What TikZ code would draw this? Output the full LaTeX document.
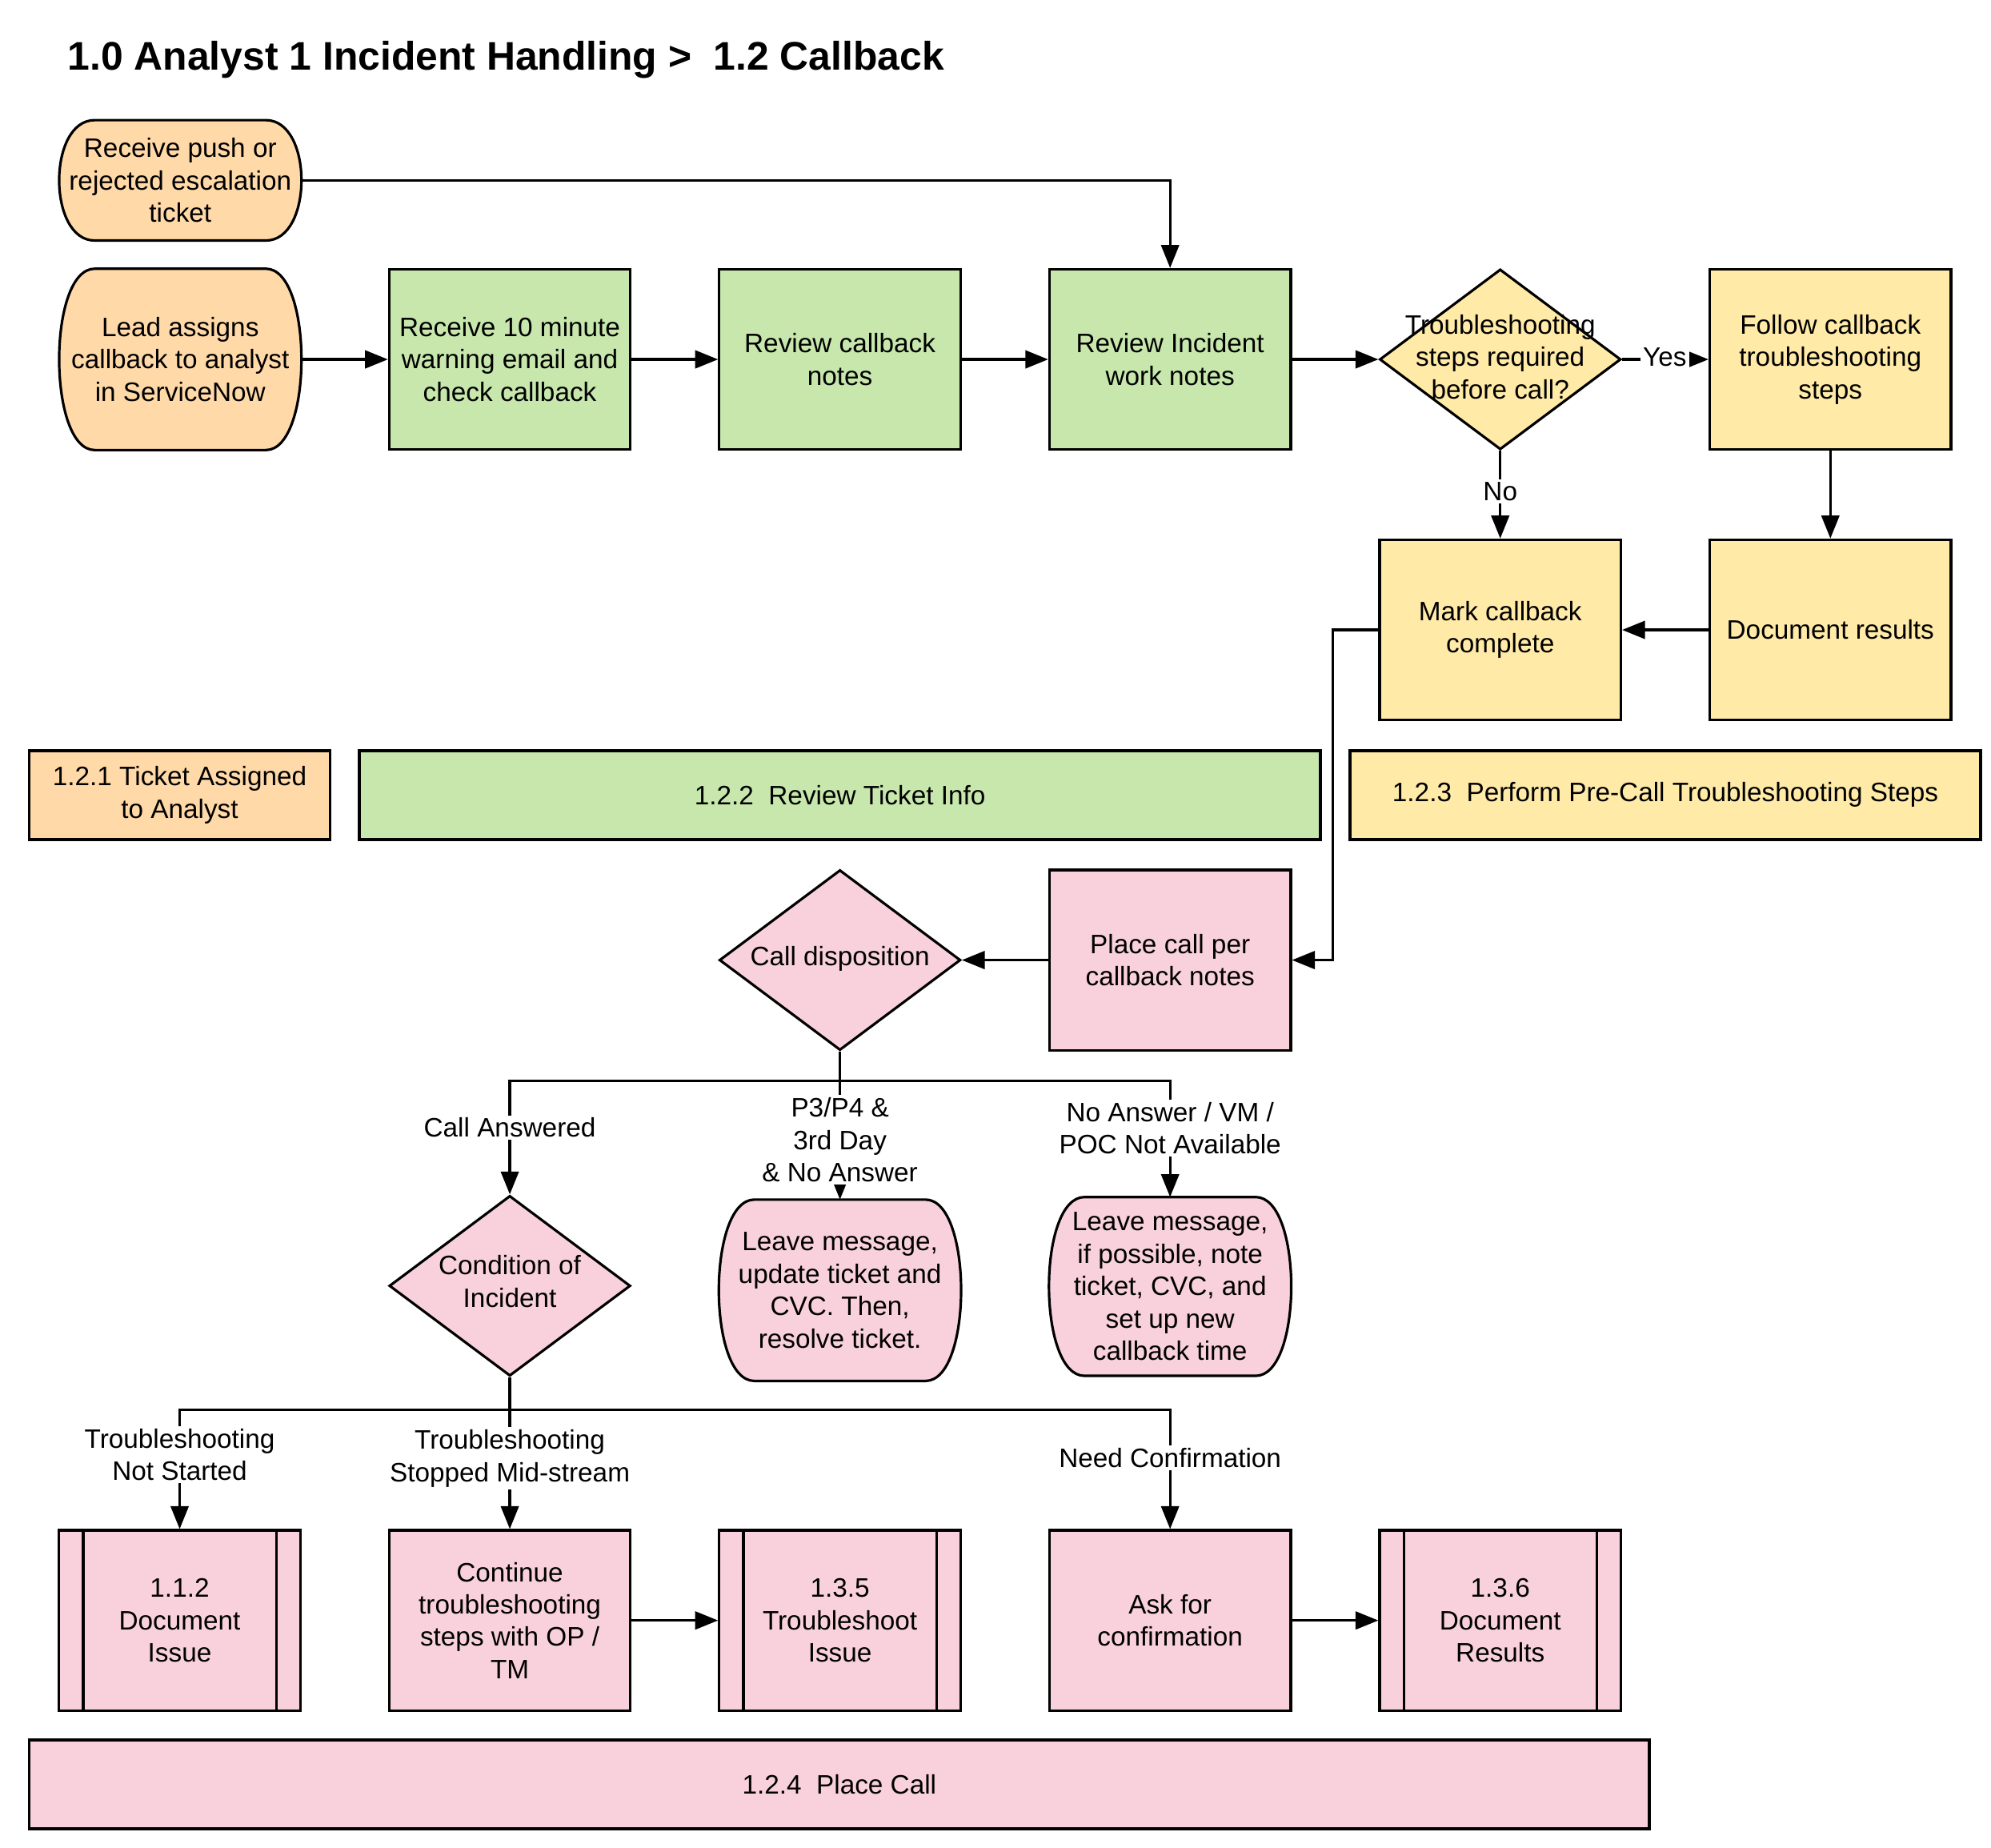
\documentclass[tikz,border=0pt]{standalone}
\usepackage{fontspec}
\setmainfont{Liberation Sans}
\usetikzlibrary{shapes.geometric,arrows.meta,calc,backgrounds}
\definecolor{peach}{HTML}{FFD9A8}
\definecolor{lgreen}{HTML}{C7E7AD}
\definecolor{lyellow}{HTML}{FFEAA7}
\definecolor{lpink}{HTML}{F8D1DC}
\newcommand\nodefont{\fontsize{10.5pt}{12.75pt}\selectfont}
\newcommand\barrelpath[2]{%
  \draw[line width=1pt, fill=#2] let \p1=(#1.north west), \p2=(#1.south east) in
    (\x1+14pt,\y1) -- (\x2-14pt,\y1)
    .. controls (\x2+4.67pt,\y1) and (\x2+4.67pt,\y2) .. (\x2-14pt,\y2)
    -- (\x1+14pt,\y2)
    .. controls (\x1-4.67pt,\y2) and (\x1-4.67pt,\y1) .. cycle;}
\begin{document}
\begin{tikzpicture}[x=0.5pt, y=-0.5pt,
  every node/.style={font=\nodefont},
  box/.style={rectangle, draw, line width=1pt, minimum width=95pt, minimum height=71pt, align=center, inner sep=2pt},
  term/.style={rectangle, draw=none, minimum width=95pt, minimum height=71pt, align=center, inner sep=2pt},
  dia/.style={diamond, draw, line width=1pt, minimum width=95pt, minimum height=71pt, inner sep=0pt},
  sub/.style={box, path picture={
     \draw[line width=1pt] ([xshift=9.5pt]path picture bounding box.north west) -- ([xshift=9.5pt]path picture bounding box.south west);
     \draw[line width=1pt] ([xshift=-9.5pt]path picture bounding box.north east) -- ([xshift=-9.5pt]path picture bounding box.south east);}},
  lane/.style={rectangle, draw, line width=1.2pt, minimum height=35pt, align=center, inner sep=2pt},
  lbl/.style={fill=white, align=center, inner sep=1pt},
  ln/.style={line width=1pt},
  arr/.style={line width=1pt, -{Triangle[length=9pt,width=7pt]}}]
\useasboundingbox (0,0) rectangle (1568,1455);

\node[anchor=base west, inner sep=0pt, font=\fontsize{15.7pt}{19pt}\selectfont\bfseries] (title) at (53,55) {1.0 Analyst 1 Incident Handling >\ \ 1.2 Callback};

% row 0 / 1
\node[term, minimum height=47pt] (push) at (142,142) {Receive push or\\rejected escalation\\ticket};
\node[term] (lead) at (142,283) {Lead assigns\\callback to analyst\\in ServiceNow};
\node[box, fill=lgreen] (recv) at (401.5,283) {Receive 10 minute\\warning email and\\check callback};
\node[box, fill=lgreen] (revcb) at (661.5,283) {Review callback\\notes};
\node[box, fill=lgreen] (revinc) at (921.5,283) {Review Incident\\work notes};
\node[dia, fill=lyellow] (d1) at (1181.5,283) {};
\node[align=center, inner sep=0pt] (d1t) at (1181.5,281) {Troubleshooting\\steps required\\before call?};
\node[box, fill=lyellow] (follow) at (1441.5,283) {Follow callback\\troubleshooting\\steps};

% row 2
\node[box, fill=lyellow] (mark) at (1181.5,496) {Mark callback\\complete};
\node[box, fill=lyellow] (docres) at (1441.5,496) {Document results};

% lanes
\node[lane, fill=peach, minimum width=118.5pt] (lane1) at (141.5,626) {1.2.1 Ticket Assigned\\to Analyst};
\node[lane, fill=lgreen, minimum width=378.5pt] (lane2) at (661.5,626) {1.2.2\ \ Review Ticket Info};
\node[lane, fill=lyellow, minimum width=248.5pt] (lane3) at (1311.5,626) {1.2.3\ \ Perform Pre-Call Troubleshooting Steps};

% row 3
\node[dia, fill=lpink] (calldisp) at (661.5,756) {};
\node[inner sep=0pt] (calldispt) at (661.5,755) {Call disposition};
\node[box, fill=lpink] (place) at (921.5,756) {Place call per\\callback notes};

% row 4
\node[dia, fill=lpink] (cond) at (401.5,1012.5) {};
\node[align=center, inner sep=0pt] (condt) at (401.5,1009) {Condition of\\Incident};
\node[term] (leave1) at (661.5,1016) {Leave message,\\update ticket and\\CVC. Then,\\resolve ticket.};
\node[term, minimum height=70pt] (leave2) at (921.5,1013) {Leave message,\\if possible, note\\ticket, CVC, and\\set up new\\callback time};

% row 5
\node[sub, fill=lpink] (doc112) at (141.5,1276) {1.1.2\\Document\\Issue};
\node[box, fill=lpink] (cont) at (401.5,1276) {Continue\\troubleshooting\\steps with OP /\\TM};
\node[sub, fill=lpink] (ts135) at (661.5,1276) {1.3.5\\Troubleshoot\\Issue};
\node[box, fill=lpink] (ask) at (921.5,1276) {Ask for\\confirmation};
\node[sub, fill=lpink] (doc136) at (1181.5,1276) {1.3.6\\Document\\Results};

\node[lane, fill=lpink, minimum width=638pt] (lane4) at (661,1405) {1.2.4\ \ Place Call};

\begin{scope}[on background layer]
\barrelpath{push}{peach}
\barrelpath{lead}{peach}
\barrelpath{leave1}{lpink}
\barrelpath{leave2}{lpink}
\end{scope}

% connectors
\draw[arr] (push.east) -| (revinc.north);
\draw[arr] (lead.east) -- (recv.west);
\draw[arr] (recv.east) -- (revcb.west);
\draw[arr] (revcb.east) -- (revinc.west);
\draw[arr] (revinc.east) -- (d1.west);
\draw[arr] (d1.east) -- (follow.west);
\node[lbl] (yes) at (1311,281) {Yes};
\draw[arr] (d1.south) -- (mark.north);
\node[lbl] (no) at (1181.5,387) {No};
\draw[arr] (follow.south) -- (docres.north);
\draw[arr] (docres.west) -- (mark.east);
\draw[arr] (mark.west) -- ++(-36,0) |- (place.east);
\draw[arr] (place.west) -- (calldisp.east);

\coordinate (j1) at (661.5,851);
\draw[ln] (calldisp.south) -- (j1);
\draw[arr] (j1) -| (cond.north);
\draw[arr] (j1) -- (leave1.north);
\draw[arr] (j1) -| (leave2.north);
\node[lbl] (lca) at (401.5,888) {Call Answered};
\node[lbl] (lp3) at (661.5,897.5) {P3/P4 \&\\3rd Day\\\& No Answer};
\node[lbl] (lna) at (921.5,888.5) {No Answer / VM /\\POC Not Available};

\coordinate (j2) at (401.5,1110);
\draw[ln] (cond.south) -- (j2);
\draw[arr] (j2) -| (doc112.north);
\draw[arr] (j2) -- (cont.north);
\draw[arr] (j2) -| (ask.north);
\node[lbl] (lns) at (141.5,1145.5) {Troubleshooting\\Not Started};
\node[lbl] (lsm) at (401.5,1148.5) {Troubleshooting\\Stopped Mid-stream};
\node[lbl] (lnc) at (921.5,1148) {Need Confirmation};

\draw[arr] (cont.east) -- (ts135.west);
\draw[arr] (ask.east) -- (doc136.west);
\end{tikzpicture}
\end{document}
